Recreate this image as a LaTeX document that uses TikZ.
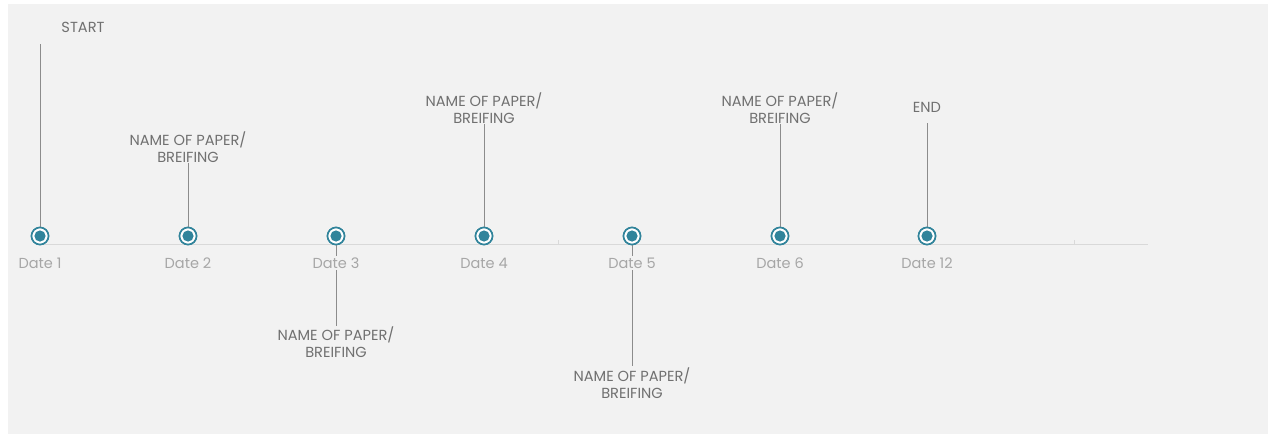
\documentclass[tikz,border=0pt]{standalone}
\usepackage{fontspec}
\setmainfont{Poppins}
\definecolor{bg}{HTML}{F2F2F2}
\definecolor{axisc}{HTML}{D9D9D9}
\definecolor{teal1}{HTML}{31849B}
\definecolor{stemc}{HTML}{8C8C8C}
\definecolor{labc}{HTML}{707070}
\definecolor{datec}{HTML}{A6A6A6}
\tikzset{
  dot/.style={circle,draw=teal1,line width=1.6pt,fill=white,minimum size=17pt,inner sep=0pt,
    path picture={\fill[teal1] (path picture bounding box.center) circle (5.6pt);}},
  datelab/.style={font=\fontsize{14.5}{16}\selectfont,text=datec,fill=bg,inner sep=1.5pt},
  lab/.style={font=\fontsize{14.6}{17.5}\selectfont,text=labc,align=center,inner sep=0pt},
  stem/.style={draw=stemc,line width=0.9pt},
  tick/.style={draw=axisc,line width=0.8pt}
}
\begin{document}
\begin{tikzpicture}[x=1pt,y=-1pt]
\useasboundingbox (0,0) rectangle (1268,434);
\fill[bg] (8,4) rectangle (1268,434);
% axis
\coordinate (ax0) at (40,244);
\coordinate (ax1) at (1148,244);
\coordinate (tk1a) at (558,240); \coordinate (tk1b) at (558,245);
\coordinate (tk2a) at (1074,240); \coordinate (tk2b) at (1074,245);
\draw[tick] (ax0) -- (ax1);
\draw[tick] (tk1a) -- (tk1b);
\draw[tick] (tk2a) -- (tk2b);
% text labels
\node[lab] (start) at (83,27) {START};
\coordinate (s1) at (40,44);
\node[lab] (t2) at (188,147) {NAME OF PAPER/\\BREIFING};
\node[lab] (t3) at (336,342) {NAME OF PAPER/\\BREIFING};
\node[lab] (t4) at (484,108) {NAME OF PAPER/\\BREIFING};
\node[lab] (t5) at (632,383) {NAME OF PAPER/\\BREIFING};
\node[lab] (t6) at (780,108) {NAME OF PAPER/\\BREIFING};
\node[lab] (endl) at (927,107) {END};
% dots
\node[dot] (c1) at (40,236) {};
\node[dot] (c2) at (188,236) {};
\node[dot] (c3) at (336,236) {};
\node[dot] (c4) at (484,236) {};
\node[dot] (c5) at (632,236) {};
\node[dot] (c6) at (780,236) {};
\node[dot] (c7) at (927,236) {};
% stems
\draw[stem] (s1) -- (c1.north);
\draw[stem,shorten <=0pt] (t2.south) -- (c2.north);
\draw[stem,shorten <=0pt] (t4.south) -- (c4.north);
\draw[stem,shorten <=0pt] (t6.south) -- (c6.north);
\draw[stem,shorten <=11pt] (endl.south) -- (c7.north);
\draw[stem,shorten >=0pt] (c3.south) -- (t3.north);
\draw[stem,shorten >=1pt] (c5.south) -- (t5.north);
% redraw dots over stems
\node[dot] at (c1) {};
\node[dot] at (c2) {};
\node[dot] at (c3) {};
\node[dot] at (c4) {};
\node[dot] at (c5) {};
\node[dot] at (c6) {};
\node[dot] at (c7) {};
% date labels
\node[datelab] (dl1) at (40,263) {Date 1};
\node[datelab] (dl2) at (188,263) {Date 2};
\node[datelab] (dl3) at (336,263) {Date 3};
\node[datelab] (dl4) at (484,263) {Date 4};
\node[datelab] (dl5) at (632,263) {Date 5};
\node[datelab] (dl6) at (780,263) {Date 6};
\node[datelab] (dl7) at (927,263) {Date 12};
\end{tikzpicture}
\end{document}
